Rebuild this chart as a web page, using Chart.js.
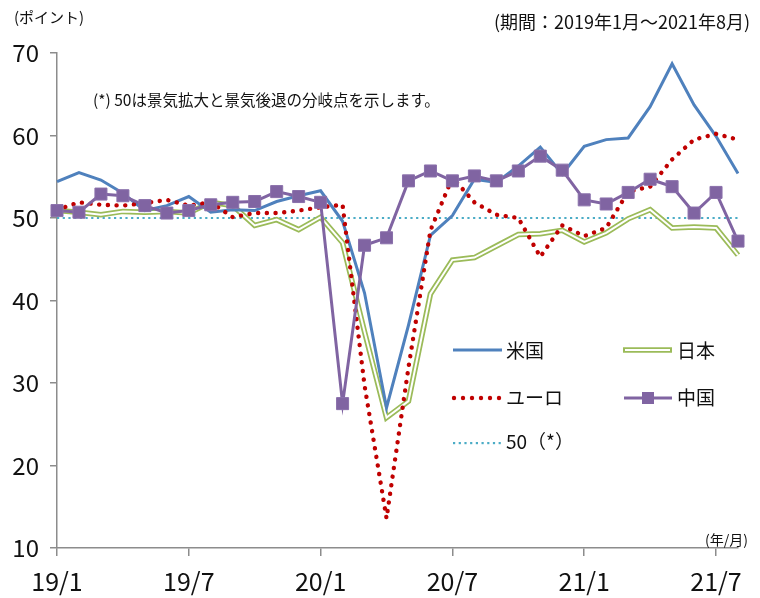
<!DOCTYPE html>
<html>
<head>
<meta charset="utf-8">
<script src="https://cdn.jsdelivr.net/npm/chart.js@4.4.1/dist/chart.umd.min.js"></script>
<style>
  body { margin: 0; background: #fff; }
  canvas { display: block; }
</style>
</head>
<body>
<canvas id="myChart" width="760" height="598"></canvas>
<script>
// months 2019/1 - 2021/8
const months = [
  "19/1", "19/2", "19/3", "19/4", "19/5", "19/6", "19/7", "19/8", "19/9", "19/10", "19/11", "19/12",
  "20/1", "20/2", "20/3", "20/4", "20/5", "20/6", "20/7", "20/8", "20/9", "20/10", "20/11", "20/12",
  "21/1", "21/2", "21/3", "21/4", "21/5", "21/6", "21/7", "21/8",
];

const usData = [
  54.4, 55.5, 54.6, 53.0, 50.9, 51.5, 52.6, 50.7, 51.0, 50.9, 52.0, 52.7,
  53.3, 49.6, 40.9, 27.0, 37.0, 47.9, 50.3, 54.7, 54.3, 56.3, 58.6, 55.3,
  58.7, 59.5, 59.7, 63.5, 68.7, 63.7, 59.9, 55.4,
];
const japanData = [
  50.9, 50.7, 50.4, 50.8, 50.7, 50.8, 50.6, 51.9, 51.5, 49.1, 49.8, 48.6,
  50.1, 47.0, 36.2, 25.8, 27.8, 40.8, 44.9, 45.2, 46.6, 48.0, 48.1, 48.5,
  47.1, 48.2, 49.9, 51.0, 48.8, 48.9, 48.8, 45.5,
];
const euroData = [
  51.0, 51.9, 51.6, 51.5, 51.8, 52.2, 51.5, 51.9, 50.1, 50.6, 50.6, 50.9,
  51.3, 51.6, 29.7, 13.6, 31.9, 48.5, 54.9, 51.9, 50.4, 50.0, 45.3, 49.1,
  47.8, 48.8, 53.2, 53.8, 57.1, 59.5, 60.2, 59.5,
];
const chinaData = [
  50.9, 50.7, 52.9, 52.7, 51.5, 50.6, 50.9, 51.6, 51.9, 52.0, 53.2, 52.6,
  51.9, 27.5, 46.7, 47.6, 54.5, 55.7, 54.5, 55.1, 54.5, 55.7, 57.5, 55.8,
  52.2, 51.7, 53.1, 54.7, 53.8, 50.6, 53.1, 47.2,
];
const lineFifty = months.map(() => 50);

const yTicks = [10, 20, 30, 40, 50, 60, 70];

const jpFont = "'Noto Sans CJK JP', 'Noto Sans', sans-serif";
const numFont = "'Liberation Sans Narrow', 'Noto Sans CJK JP', sans-serif";

// texts and legend drawn on top of the chart
const extrasPlugin = {
  id: "extras",
  afterDraw(chart) {
    const ctx = chart.ctx;
    ctx.save();
    ctx.fillStyle = "#111";
    ctx.textBaseline = "middle";

    ctx.font = "15px " + jpFont;
    ctx.textAlign = "left";
    ctx.fillText("(ポイント)", 14, 17);

    ctx.font = "18px " + jpFont;
    ctx.textAlign = "right";
    ctx.fillText("(期間：2019年1月～2021年8月)", 750, 22);

    ctx.font = "15.5px " + jpFont;
    ctx.textAlign = "left";
    ctx.fillText("(*) 50は景気拡大と景気後退の分岐点を示します。", 93, 100);

    ctx.font = "14px " + jpFont;
    ctx.textAlign = "right";
    ctx.fillText("(年/月)", 748, 540);

    // legend
    ctx.font = "19px " + jpFont;
    ctx.textAlign = "left";

    // 米国
    ctx.strokeStyle = "#4F81BD";
    ctx.lineWidth = 3;
    ctx.beginPath(); ctx.moveTo(453, 350); ctx.lineTo(502, 350); ctx.stroke();
    ctx.fillText("米国", 506, 351);

    // 日本
    ctx.strokeStyle = "#9BBB59";
    ctx.lineWidth = 5.5;
    ctx.beginPath(); ctx.moveTo(623, 350); ctx.lineTo(672, 350); ctx.stroke();
    ctx.strokeStyle = "#fff";
    ctx.lineWidth = 2;
    ctx.beginPath(); ctx.moveTo(625, 350); ctx.lineTo(670, 350); ctx.stroke();
    ctx.fillText("日本", 677, 351);

    // ユーロ
    ctx.fillStyle = "#C00000";
    for (let x = 454; x <= 499; x += 9) {
      ctx.beginPath(); ctx.arc(x, 398, 2.2, 0, Math.PI * 2); ctx.fill();
    }
    ctx.fillStyle = "#111";
    ctx.fillText("ユーロ", 506, 398);

    // 中国
    ctx.strokeStyle = "#8064A2";
    ctx.lineWidth = 3;
    ctx.beginPath(); ctx.moveTo(624, 398); ctx.lineTo(672, 398); ctx.stroke();
    ctx.fillStyle = "#8064A2";
    ctx.fillRect(642, 392, 12, 12);
    ctx.fillStyle = "#111";
    ctx.fillText("中国", 677, 398);

    // 50(*)
    ctx.fillStyle = "#4BACC6";
    for (let x = 454; x <= 501; x += 5.7) {
      ctx.fillRect(x - 1, 442, 2.2, 2.2);
    }
    ctx.fillStyle = "#111";
    ctx.fillText("50（*）", 506, 442);

    ctx.restore();
  },
};

const data = {
  labels: months,
  datasets: [
    {
      label: "50(*)",
      data: lineFifty,
      borderColor: "#4BACC6",
      borderWidth: 2.2,
      borderDash: [2.2, 3.5],
      pointRadius: 0,
      order: 7,
    },
    {
      label: "日本",
      data: japanData,
      borderColor: "#9BBB59",
      borderWidth: 5.5,
      pointRadius: 0,
      order: 6,
    },
    {
      label: "日本-inner",
      data: japanData,
      borderColor: "#ffffff",
      borderWidth: 2,
      pointRadius: 0,
      order: 5,
    },
    {
      label: "米国",
      data: usData,
      borderColor: "#4F81BD",
      borderWidth: 3,
      pointRadius: 0,
      order: 4,
    },
    {
      label: "ユーロ",
      data: euroData,
      borderColor: "#C00000",
      borderWidth: 4.4,
      borderDash: [0.1, 8.6],
      borderCapStyle: "round",
      pointRadius: 0,
      order: 3,
    },
    {
      label: "中国",
      data: chinaData,
      borderColor: "#8064A2",
      backgroundColor: "#8064A2",
      borderWidth: 3,
      pointStyle: "rect",
      pointRadius: 8.5,
      pointBorderWidth: 1,
      pointBorderColor: "#8a70ab",
      order: 1,
    },
  ],
};

const config = {
  type: "line",
  data: data,
  options: {
    responsive: false,
    animation: false,
    devicePixelRatio: 1,
    layout: {
      padding: { left: 0, top: 53, right: 22, bottom: 0 },
    },
    plugins: {
      legend: { display: false },
      tooltip: { enabled: false },
    },
    elements: {
      line: { tension: 0 },
    },
    scales: {
      x: {
        offset: false,
        afterFit(scale) {
          scale.height = 50;
        },
        border: { color: "#8c8c8c", width: 1.5 },
        grid: {
          drawOnChartArea: false,
          tickLength: 8,
          lineWidth: 1.5,
          color: (c) => (c.index % 6 === 0 ? "#8c8c8c" : "rgba(0,0,0,0)"),
        },
        ticks: {
          autoSkip: false,
          maxRotation: 0,
          padding: 10,
          color: "#111",
          font: { family: numFont, size: 25 },
          callback: (v, i) => (i % 6 === 0 ? months[i] : ""),
        },
      },
      y: {
        min: 10,
        max: 70,
        afterFit(scale) {
          scale.width = 57;
        },
        afterBuildTicks(scale) {
          scale.ticks = yTicks.map((v) => ({ value: v }));
        },
        border: { color: "#8c8c8c", width: 1.5 },
        grid: {
          drawOnChartArea: false,
          tickLength: 7,
          lineWidth: 1.5,
          color: "#8c8c8c",
        },
        ticks: {
          padding: 11,
          color: "#111",
          font: { family: numFont, size: 24 },
        },
      },
    },
  },
  plugins: [extrasPlugin],
};

const canvasChart = document.getElementById("myChart");
const myChart = new Chart(canvasChart, config);
</script>
</body>
</html>
